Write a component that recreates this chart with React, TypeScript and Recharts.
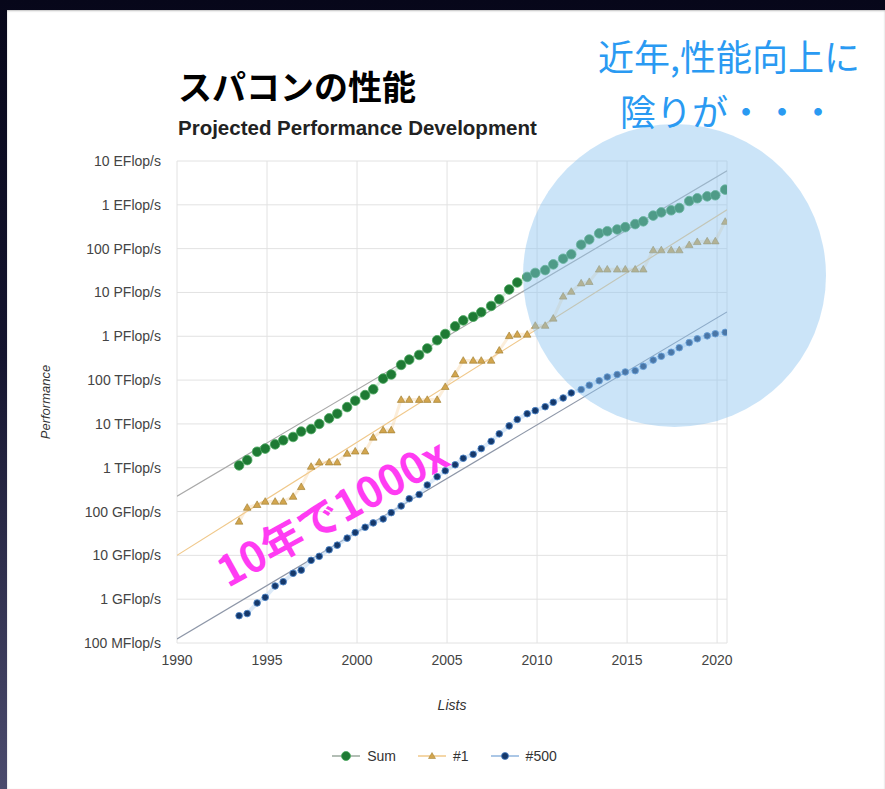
import React from 'react';
import { ComposedChart, Line, XAxis, YAxis, CartesianGrid, Legend } from 'recharts';

// TOP500 list dates (June / November lists)
const listYears = [
  1993.45, 1993.9, 1994.45, 1994.9, 1995.45, 1995.9, 1996.45, 1996.9, 1997.45, 1997.9,
  1998.45, 1998.9, 1999.45, 1999.9, 2000.45, 2000.9, 2001.45, 2001.9, 2002.45, 2002.9,
  2003.45, 2003.9, 2004.45, 2004.9, 2005.45, 2005.9, 2006.45, 2006.9, 2007.45, 2007.9,
  2008.45, 2008.9, 2009.45, 2009.9, 2010.45, 2010.9, 2011.45, 2011.9, 2012.45, 2012.9,
  2013.45, 2013.9, 2014.45, 2014.9, 2015.45, 2015.9, 2016.45, 2016.9, 2017.45, 2017.9,
  2018.45, 2018.9, 2019.45, 2019.9, 2020.45,
];

// values in GFlop/s
const sumGflops = [
  1128, 1493, 2317, 2732, 3414, 4225, 5034, 6698, 7621, 10000,
  13400, 17100, 24200, 33900, 45500, 61600, 108000, 134000, 222000, 293000,
  375000, 528000, 813000, 1127000, 1690000, 2300000, 2790000, 3540000, 4920000, 6970000,
  11700000, 16900000, 22600000, 27900000, 32400000, 43700000, 58900000, 74200000, 123000000, 162000000,
  223000000, 250000000, 274000000, 309000000, 363000000, 420000000, 567000000, 672000000, 749000000, 845000000,
  1220000000, 1410000000, 1560000000, 1650000000, 2220000000,
];

const top1Gflops = [
  59.7, 124, 143.4, 170, 170, 170, 220.4, 368.2, 1068, 1338,
  1338, 1338, 2121, 2379, 2379, 4938, 7226, 7226, 35860, 35860,
  35860, 35860, 35860, 70720, 136800, 280600, 280600, 280600, 280600, 478200,
  1026000, 1105000, 1105000, 1759000, 1759000, 2566000, 8162000, 10510000, 16320000, 17590000,
  33860000, 33860000, 33860000, 33860000, 33860000, 33860000, 93010000, 93010000, 93010000, 93010000,
  122300000, 143500000, 148600000, 148600000, 415500000,
];

const top500Gflops = [
  0.42, 0.47, 0.82, 1.1, 2.0, 2.5, 3.9, 4.6, 7.7, 9.5,
  13.4, 17.1, 24.7, 33.1, 43.8, 55.1, 67.8, 94.3, 134, 196,
  245, 403, 624, 851, 1166, 1646, 2026, 2737, 4005, 5929,
  9000, 12640, 17090, 20050, 24670, 31120, 39090, 50940, 60820, 76500,
  96620, 117800, 133700, 153400, 164000, 206300, 286100, 349300, 432200, 548300,
  715600, 874800, 1022000, 1142000, 1228000,
];

// projection (trend) lines
const trendYears = [1990, 2020.55];
const sumTrend = [224, 6.0e9];
const top1Trend = [10, 7.7e8];
const top500Trend = [0.123, 3.6e6];

const xTicks = [1990, 1995, 2000, 2005, 2010, 2015, 2020];
const yTicks = [0.1, 1, 10, 100, 1e3, 1e4, 1e5, 1e6, 1e7, 1e8, 1e9, 1e10];
const yTickLabels = [
  '100 MFlop/s', '1 GFlop/s', '10 GFlop/s', '100 GFlop/s', '1 TFlop/s', '10 TFlop/s',
  '100 TFlop/s', '1 PFlop/s', '10 PFlop/s', '100 PFlop/s', '1 EFlop/s', '10 EFlop/s',
];
const seriesNames = ['Sum', '#1', '#500'];

const toPoints = (xs: number[], ys: number[]) => xs.map((x, i) => ({ x, y: ys[i] }));
const sumData = toPoints(listYears, sumGflops);
const top1Data = toPoints(listYears, top1Gflops);
const top500Data = toPoints(listYears, top500Gflops);
const sumTrendData = toPoints(trendYears, sumTrend);
const top1TrendData = toPoints(trendYears, top1Trend);
const top500TrendData = toPoints(trendYears, top500Trend);

const SUM_FILL = '#1e7a34';
const SUM_STROKE = '#4aa85e';
const TOP1_FILL = '#d2a54e';
const TOP1_STROKE = '#9c7a2c';
const LAST_FILL = '#15386a';
const LAST_STROKE = '#4a82c6';

const sumDot = (p: any) =>
  p.cx == null ? <g key={`s${p.index}`} /> : (
    <circle key={`s${p.index}`} cx={p.cx} cy={p.cy} r={4.8} fill={SUM_FILL} stroke={SUM_STROKE} strokeWidth={0.8} />
  );
const top1Dot = (p: any) =>
  p.cx == null ? <g key={`t${p.index}`} /> : (
    <polygon
      key={`t${p.index}`}
      points={`${p.cx},${p.cy - 3.8} ${p.cx + 3.8},${p.cy + 2.8} ${p.cx - 3.8},${p.cy + 2.8}`}
      fill={TOP1_FILL}
      stroke={TOP1_STROKE}
      strokeWidth={0.6}
    />
  );
const lastDot = (p: any) =>
  p.cx == null ? <g key={`l${p.index}`} /> : (
    <circle key={`l${p.index}`} cx={p.cx} cy={p.cy} r={3.3} fill={LAST_FILL} stroke={LAST_STROKE} strokeWidth={0.9} />
  );

const legendLineColors = ['#9aa89c', '#f0c88a', '#8fb5de'];

const renderLegend = () => (
  <div style={{ display: 'flex', justifyContent: 'center', alignItems: 'center', gap: 22, fontSize: 14, color: '#333', fontFamily: '"Liberation Sans", Arial, sans-serif', paddingLeft: 4 }}>
    {seriesNames.map((name, i) => (
      <div key={name} style={{ display: 'flex', alignItems: 'center', gap: 7 }}>
        <svg width={28} height={12}>
          <line x1={0} y1={6} x2={28} y2={6} stroke={legendLineColors[i]} strokeWidth={1.5} />
          {i === 0 && <circle cx={14} cy={6} r={4.5} fill={SUM_FILL} stroke={SUM_STROKE} strokeWidth={0.8} />}
          {i === 1 && <polygon points="14,2.5 17.5,8.5 10.5,8.5" fill={TOP1_FILL} stroke={TOP1_STROKE} strokeWidth={0.5} />}
          {i === 2 && <circle cx={14} cy={6} r={3.5} fill={LAST_FILL} stroke={LAST_STROKE} strokeWidth={0.8} />}
        </svg>
        <span>{name}</span>
      </div>
    ))}
  </div>
);

export default function App() {
  return (
    <div
      style={{
        position: 'absolute',
        left: 0,
        top: 0,
        width: 885,
        height: 789,
        overflow: 'hidden',
        background: 'linear-gradient(to bottom, #07071a 0%, #14142e 45%, #4b4b6d 100%)',
        fontFamily: '"Liberation Sans", Arial, sans-serif',
      }}
    >
      <div style={{ position: 'absolute', left: 7, top: 10, right: 0, bottom: 0, background: '#ffffff', boxShadow: 'inset 0 1px 2px rgba(0,0,0,0.25)' }} />
      <div style={{ position: 'absolute', left: 0, top: 0 }}>
        <ComposedChart width={885} height={789} margin={{ top: 161, right: 158, bottom: 116, left: 57 }}>
          <CartesianGrid stroke="#e2e2e2" strokeWidth={1} />
          <XAxis
            dataKey="x"
            type="number"
            domain={[1990, 2020.55]}
            ticks={xTicks}
            allowDataOverflow
            axisLine={false}
            tickLine={false}
            tickSize={0}
            tickMargin={12}
            height={30}
            tick={{ fontSize: 14, fill: '#444' }}
            label={{ value: 'Lists', position: 'bottom', offset: 27, style: { fontSize: 14, fontStyle: 'italic', fill: '#333' } }}
          />
          <YAxis
            dataKey="y"
            type="number"
            scale="log"
            domain={[0.1, 1e10]}
            ticks={yTicks}
            allowDataOverflow
            axisLine={false}
            tickLine={false}
            tickSize={0}
            tickMargin={16}
            width={120}
            tickFormatter={(v: number) => yTickLabels[yTicks.findIndex((t) => Math.abs(Math.log10(t) - Math.log10(v)) < 0.01)] ?? ''}
            tick={{ fontSize: 14, fill: '#444' }}
            label={{ value: 'Performance', angle: -90, position: 'left', offset: 12, style: { fontSize: 13, fontStyle: 'italic', fill: '#333', textAnchor: 'middle' } }}
          />
          <Line data={sumTrendData} dataKey="y" stroke="#a9a9a9" strokeWidth={1.2} dot={false} isAnimationActive={false} legendType="none" />
          <Line data={top1TrendData} dataKey="y" stroke="#f0c88a" strokeWidth={1.2} dot={false} isAnimationActive={false} legendType="none" />
          <Line data={top500TrendData} dataKey="y" stroke="#8e97a8" strokeWidth={1.2} dot={false} isAnimationActive={false} legendType="none" />
          <Line data={sumData} dataKey="y" name="Sum" stroke="#9fd1a8" strokeOpacity={0.35} strokeWidth={3} dot={sumDot} isAnimationActive={false} />
          <Line data={top1Data} dataKey="y" name="#1" stroke="#f5cf94" strokeOpacity={0.35} strokeWidth={3} dot={top1Dot} isAnimationActive={false} />
          <Line data={top500Data} dataKey="y" name="#500" stroke="#b9d6f2" strokeOpacity={0.5} strokeWidth={4} dot={lastDot} isAnimationActive={false} />
          <Legend verticalAlign="middle" content={renderLegend} wrapperStyle={{ top: 748, left: 0, width: 885, height: 22 }} />
        </ComposedChart>
      </div>
      <svg width={885} height={789} style={{ position: 'absolute', left: 0, top: 0, pointerEvents: 'none' }}>
        <circle cx={674.5} cy={275.5} r={151.5} fill="#8cc4f0" fillOpacity={0.45} />
        <text x={178} y={85} fontSize={34} fontWeight={700} fill="#000" dominantBaseline="central" fontFamily='"Noto Sans CJK JP", sans-serif'>
          スパコンの性能
        </text>
        <text x={178} y={127} fontSize={20.5} fontWeight={700} fill="#222" dominantBaseline="central" fontFamily='"Liberation Sans", Arial, sans-serif'>
          Projected Performance Development
        </text>
        <text x={729} y={55} fontSize={36} fill="#2a9af2" textAnchor="middle" dominantBaseline="central" fontFamily='"Noto Sans CJK JP", sans-serif'>
          近年,性能向上に
        </text>
        <text x={728} y={110} fontSize={36} fill="#2a9af2" textAnchor="middle" dominantBaseline="central" fontFamily='"Noto Sans CJK JP", sans-serif'>
          陰りが・・・
        </text>
        <text
          x={331}
          y={510}
          fontSize={42}
          fontWeight={700}
          fill="#ff3cf3"
          textAnchor="middle"
          dominantBaseline="central"
          transform="rotate(-29 331 510)"
          fontFamily='"Noto Sans CJK JP", sans-serif'
        >
          10年で1000x
        </text>
      </svg>
    </div>
  );
}
